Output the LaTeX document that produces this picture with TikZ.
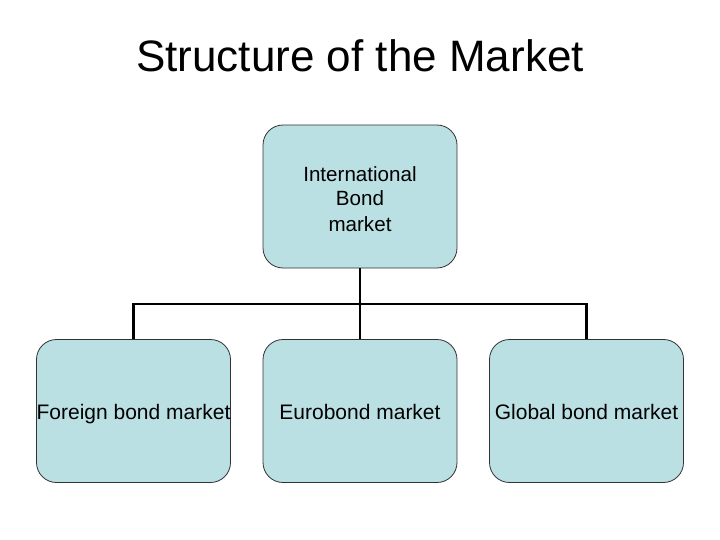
\documentclass[tikz,border=0pt]{standalone}
\usepackage{fontspec}
\setmainfont{Liberation Sans}
\definecolor{boxfill}{RGB}{187,224,227}
\definecolor{boxline}{RGB}{50,50,50}
\begin{document}
\begin{tikzpicture}[x=1pt,y=-1pt,
  orgbox/.style={draw=boxline, line width=0.8pt, fill=boxfill, rounded corners=20pt,
    minimum width=194pt, minimum height=143pt, inner sep=0pt, align=center,
    font=\fontsize{21}{25}\selectfont, text height=16pt, text depth=0pt},
  link/.style={line width=2.2pt, black}]
\useasboundingbox (0,0) rectangle (720,540);
\node[font=\fontsize{44}{52}\selectfont, anchor=base] (title) at (360,72) {Structure of the Market};
\node[orgbox, font=\fontsize{20.6}{25}\selectfont, text height=69pt, text depth=0pt] (top) at (360,196.5)
  {\begin{tabular}[b]{@{}c@{}}International\\Bond\\market\end{tabular}};
\node[orgbox] (b1) at (133.5,411) {Foreign bond market};
\node[orgbox] (b2) at (360,411) {Eurobond market};
\node[orgbox] (b3) at (586.5,411) {Global bond market};
\coordinate (bus) at (360,304);
\draw[link] (top.south) -- (bus);
\draw[link] (b1.north) |- (bus) -| (b3.north);
\draw[link] (bus) -- (b2.north);
\end{tikzpicture}
\end{document}
